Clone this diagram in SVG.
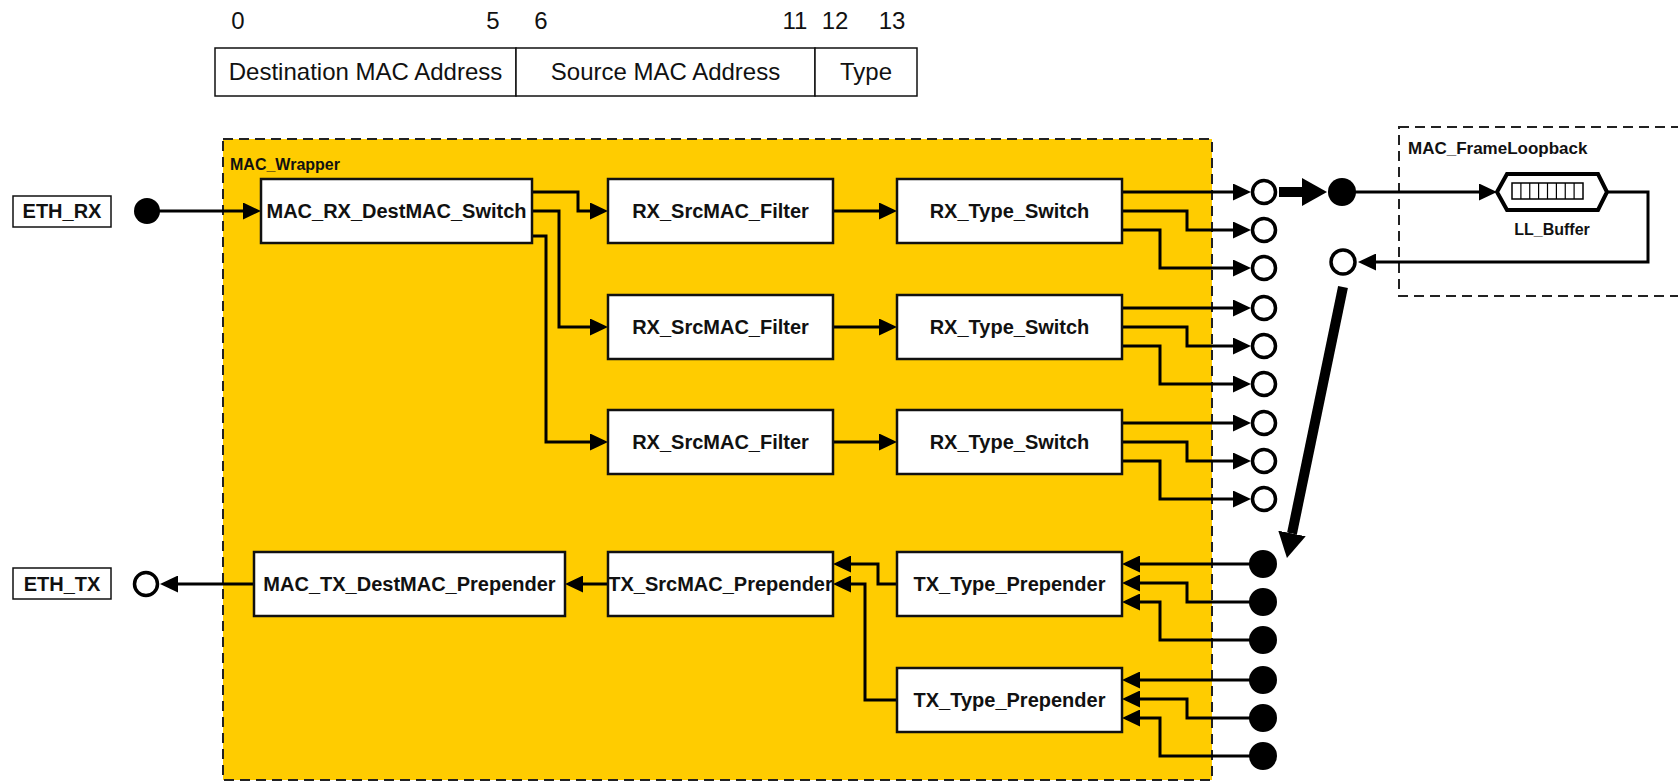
<svg xmlns="http://www.w3.org/2000/svg" width="1678" height="782" viewBox="0 0 1678 782">
<style>
text{font-family:"Liberation Sans",Arial,sans-serif;fill:#111}
.hdr{font-size:24px;text-anchor:middle}
.lbl{font-size:20px;font-weight:bold;text-anchor:middle}
.cap{font-size:16px;font-weight:bold}
.box{fill:#fff;stroke:#111;stroke-width:2.5}
.cell{fill:#fff;stroke:#111;stroke-width:1.5}
.wire{fill:none;stroke:#000;stroke-width:3;marker-end:url(#a)}
.thick{fill:none;stroke:#000;stroke-width:10;marker-end:url(#big)}
.open{fill:#fff;stroke:#000;stroke-width:3.5}
.full{fill:#000}
.dash{stroke:#222;stroke-width:2;stroke-dasharray:10 6}
</style>
<defs>
<marker id="a" markerUnits="userSpaceOnUse" markerWidth="18" markerHeight="17" viewBox="0 0 18 17" refX="14" refY="8.5" orient="auto"><path d="M0,0 L18,8.5 L0,17 z" fill="#000"/></marker>
<marker id="big" markerUnits="userSpaceOnUse" markerWidth="25" markerHeight="28" viewBox="0 0 25 28" refX="0" refY="14" orient="auto"><path d="M0,0 L25,14 L0,28 z" fill="#000"/></marker>
</defs>
<rect width="1678" height="782" fill="#fff"/>

<g id="frame-header">
<text class="hdr" x="238" y="29">0</text>
<text class="hdr" x="493" y="29">5</text>
<text class="hdr" x="541" y="29">6</text>
<text class="hdr" x="795" y="29">11</text>
<text class="hdr" x="835" y="29">12</text>
<text class="hdr" x="892" y="29">13</text>
<rect class="cell" x="215" y="48" width="301" height="48"/>
<rect class="cell" x="516" y="48" width="299" height="48"/>
<rect class="cell" x="815" y="48" width="102" height="48"/>
<text class="hdr" x="365.5" y="80">Destination MAC Address</text>
<text class="hdr" x="665.5" y="80">Source MAC Address</text>
<text class="hdr" x="866" y="80">Type</text>
</g>

<g id="MAC_Wrapper">
<rect x="223" y="139" width="989" height="641" fill="#FFCC00" class="dash"/>
<text class="cap" x="230" y="170">MAC_Wrapper</text>
</g>

<g id="MAC_FrameLoopback">
<rect x="1399" y="127" width="320" height="169" fill="none" class="dash"/>
<text class="cap" x="1408" y="154" style="font-size:17px">MAC_FrameLoopback</text>
</g>

<g id="connectors">
<path class="wire" d="M147,211 H257"/>
<path class="wire" d="M532,192 H578 V211 H604"/>
<path class="wire" d="M532,211 H559 V327 H604"/>
<path class="wire" d="M532,236 H546 V442 H604"/>
<path class="wire" d="M833,211 H893"/>
<path class="wire" d="M833,327 H893"/>
<path class="wire" d="M833,442 H893"/>
<path class="wire" d="M1122,192 H1247"/>
<path class="wire" d="M1122,211 H1187 V230 H1247"/>
<path class="wire" d="M1122,230 H1160 V268 H1247"/>
<path class="wire" d="M1122,308 H1247"/>
<path class="wire" d="M1122,327 H1187 V346 H1247"/>
<path class="wire" d="M1122,346 H1160 V384 H1247"/>
<path class="wire" d="M1122,423 H1247"/>
<path class="wire" d="M1122,442 H1187 V461 H1247"/>
<path class="wire" d="M1122,461 H1160 V499 H1247"/>
<path class="wire" d="M1263,564 H1126"/>
<path class="wire" d="M1263,602 H1187 V583 H1126"/>
<path class="wire" d="M1263,640 H1160 V602 H1126"/>
<path class="wire" d="M1263,680 H1126"/>
<path class="wire" d="M1263,718 H1187 V699 H1126"/>
<path class="wire" d="M1263,756 H1160 V718 H1126"/>
<path class="wire" d="M897,584 H878 V564 H837"/>
<path class="wire" d="M897,700 H865 V584 H837"/>
<path class="wire" d="M608,584 H569"/>
<path class="wire" d="M254,584 H164"/>
<path class="thick" d="M1279,192 H1302"/>
<path class="wire" d="M1342,192 H1493"/>
<path class="wire" d="M1607,192 H1648 V262 H1362"/>
<path class="thick" d="M1343,287 L1292,533.5"/>
</g>

<g id="ETH_RX"><rect class="cell" x="13" y="196" width="98" height="31"/><text class="lbl" x="62" y="218">ETH_RX</text></g>
<g id="ETH_TX"><rect class="cell" x="13" y="568" width="98" height="31"/><text class="lbl" x="62" y="591">ETH_TX</text></g>
<g id="port-eth-rx"><circle class="full" cx="147" cy="211" r="13"/></g>
<g id="port-eth-tx"><circle class="open" cx="146" cy="584" r="11.5"/></g>

<g id="MAC_RX_DestMAC_Switch"><rect class="box" x="261" y="179" width="271" height="64"/><text class="lbl" x="396.5" y="218">MAC_RX_DestMAC_Switch</text></g>
<g id="RX_SrcMAC_Filter_0"><rect class="box" x="608" y="179" width="225" height="64"/><text class="lbl" x="720.5" y="218">RX_SrcMAC_Filter</text></g>
<g id="RX_SrcMAC_Filter_1"><rect class="box" x="608" y="295" width="225" height="64"/><text class="lbl" x="720.5" y="334">RX_SrcMAC_Filter</text></g>
<g id="RX_SrcMAC_Filter_2"><rect class="box" x="608" y="410" width="225" height="64"/><text class="lbl" x="720.5" y="449">RX_SrcMAC_Filter</text></g>
<g id="RX_Type_Switch_0"><rect class="box" x="897" y="179" width="225" height="64"/><text class="lbl" x="1009.5" y="218">RX_Type_Switch</text></g>
<g id="RX_Type_Switch_1"><rect class="box" x="897" y="295" width="225" height="64"/><text class="lbl" x="1009.5" y="334">RX_Type_Switch</text></g>
<g id="RX_Type_Switch_2"><rect class="box" x="897" y="410" width="225" height="64"/><text class="lbl" x="1009.5" y="449">RX_Type_Switch</text></g>
<g id="MAC_TX_DestMAC_Prepender"><rect class="box" x="254" y="552" width="311" height="64"/><text class="lbl" x="409.5" y="591">MAC_TX_DestMAC_Prepender</text></g>
<g id="TX_SrcMAC_Prepender"><rect class="box" x="608" y="552" width="225" height="64"/><text class="lbl" x="720.5" y="591">TX_SrcMAC_Prepender</text></g>
<g id="TX_Type_Prepender_0"><rect class="box" x="897" y="552" width="225" height="64"/><text class="lbl" x="1009.5" y="591">TX_Type_Prepender</text></g>
<g id="TX_Type_Prepender_1"><rect class="box" x="897" y="668" width="225" height="64"/><text class="lbl" x="1009.5" y="707">TX_Type_Prepender</text></g>

<g id="rx-ports">
<circle class="open" cx="1264" cy="192" r="11.5"/>
<circle class="open" cx="1264" cy="230" r="11.5"/>
<circle class="open" cx="1264" cy="268" r="11.5"/>
<circle class="open" cx="1264" cy="308" r="11.5"/>
<circle class="open" cx="1264" cy="346" r="11.5"/>
<circle class="open" cx="1264" cy="384" r="11.5"/>
<circle class="open" cx="1264" cy="423" r="11.5"/>
<circle class="open" cx="1264" cy="461" r="11.5"/>
<circle class="open" cx="1264" cy="499" r="11.5"/>
</g>
<g id="tx-ports">
<circle class="full" cx="1263" cy="564" r="14"/>
<circle class="full" cx="1263" cy="602" r="14"/>
<circle class="full" cx="1263" cy="640" r="14"/>
<circle class="full" cx="1263" cy="680" r="14"/>
<circle class="full" cx="1263" cy="718" r="14"/>
<circle class="full" cx="1263" cy="756" r="14"/>
</g>
<g id="loop-in"><circle class="full" cx="1342" cy="192" r="14"/></g>
<g id="loop-out"><circle class="open" cx="1343" cy="262" r="12"/></g>

<g id="LL_Buffer">
<polygon points="1497,192 1507,174 1598,174 1607,192 1598,210 1507,210" fill="#fff" stroke="#000" stroke-width="4"/>
<rect x="1512" y="183" width="71" height="16" fill="#fff" stroke="#000" stroke-width="1.5"/>
<path d="M1520.9,183 V199 M1529.75,183 V199 M1538.6,183 V199 M1547.5,183 V199 M1556.4,183 V199 M1565.25,183 V199 M1574.1,183 V199" stroke="#000" stroke-width="1.2"/>
<text class="cap" x="1552" y="235" text-anchor="middle">LL_Buffer</text>
</g>
</svg>
